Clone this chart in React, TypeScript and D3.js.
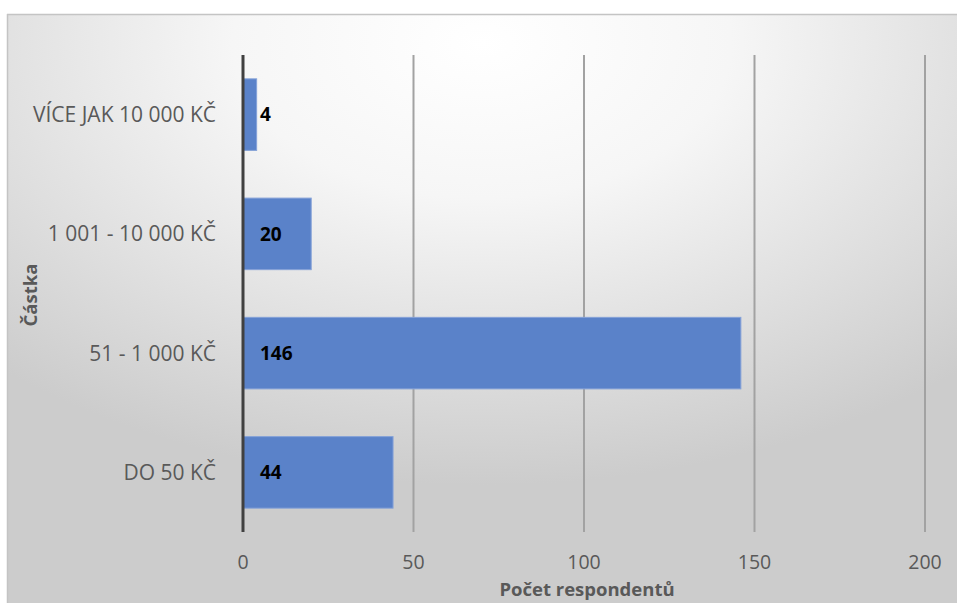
import React from "react";
import * as d3 from "d3";

const categories = ["VÍCE JAK 10 000 KČ", "1 001 - 10 000 KČ", "51 - 1 000 KČ", "DO 50 KČ"];
const values = [4, 20, 146, 44];
const xTicks = [0, 50, 100, 150, 200];
const xTitle = "Počet respondentů";
const yTitle = "Částka";

const W = 957;
const H = 603;
const FONT = "'Open Sans', 'Noto Sans', sans-serif";

export default function App() {
  const x = d3.scaleLinear().domain([0, 200]).range([243, 925]);
  const y = d3.scaleBand<string>().domain(categories).range([55, 532]).paddingInner(0.4).paddingOuter(0.2);
  const band = d3.scaleBand<string>().domain(categories).range([55, 532]);

  return (
    <svg width={W} height={H} style={{ position: "absolute", left: 0, top: 0 }} fontFamily={FONT}>
      <defs>
        <radialGradient id="bg" cx="50%" cy="5%" r="75%" fx="50%" fy="5%" gradientUnits="objectBoundingBox">
          <stop offset="0%" stopColor="#ffffff" />
          <stop offset="35%" stopColor="#f6f6f6" />
          <stop offset="100%" stopColor="#cccccc" />
        </radialGradient>
      </defs>
      <rect x={0} y={0} width={W} height={H} fill="#ffffff" />
      <rect x={7} y={14} width={W - 7} height={H - 14} fill="url(#bg)" />
      <line x1={7} x2={W} y1={14.5} y2={14.5} stroke="#c4c4c4" strokeWidth={1.5} />
      <line x1={7.5} x2={7.5} y1={14} y2={H} stroke="#c4c4c4" strokeWidth={1.5} />

      {xTicks.filter((t) => t !== 0).map((t) => (
        <line key={t} x1={x(t)} x2={x(t)} y1={55} y2={532} stroke="#a2a2a2" strokeWidth={2} />
      ))}

      {categories.map((c, i) => (
        <g key={c}>
          <rect
            x={x(0)}
            y={y(c)!}
            width={x(values[i]) - x(0)}
            height={y.bandwidth()}
            fill="#5a82c9"
            stroke="#85a2d8"
            strokeWidth={1}
          />
          <text
            x={x(0) + 17}
            y={band(c)! + band.bandwidth() / 2}
            dy="0.36em"
            fontSize={19}
            fontWeight="bold"
            fill="#000"
          >
            {values[i]}
          </text>
          <text
            x={216}
            y={band(c)! + band.bandwidth() / 2}
            dy="0.36em"
            textAnchor="end"
            fontSize={21}
            fill="#595959"
          >
            {c}
          </text>
        </g>
      ))}

      <line x1={x(0)} x2={x(0)} y1={55} y2={532} stroke="#404040" strokeWidth={3} />

      {xTicks.map((t) => (
        <text key={t} x={x(t)} y={569} textAnchor="middle" fontSize={19.5} fill="#595959">
          {t}
        </text>
      ))}

      <text x={587} y={596} textAnchor="middle" fontSize={18.5} fontWeight="bold" fill="#595959">
        {xTitle}
      </text>
      <text
        transform={`translate(30, 295) rotate(-90)`}
        textAnchor="middle"
        dy="0.36em"
        fontSize={18.5}
        fontWeight="bold"
        fill="#595959"
      >
        {yTitle}
      </text>
    </svg>
  );
}
